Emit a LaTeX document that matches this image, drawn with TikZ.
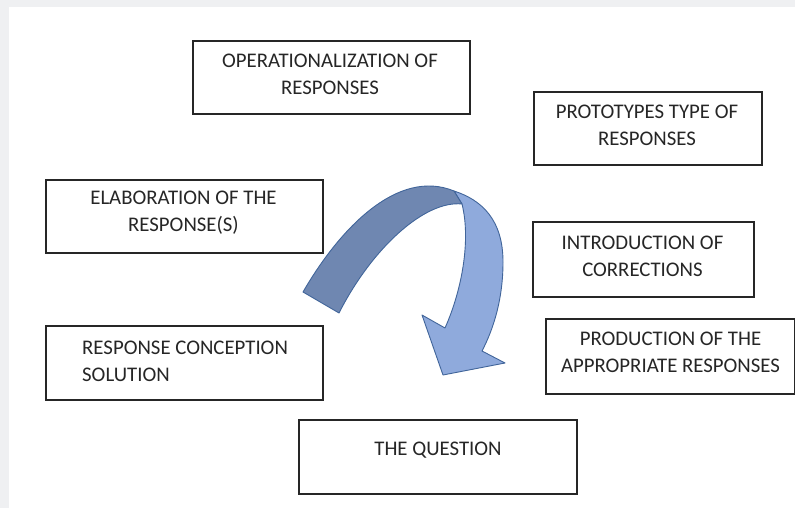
\documentclass[tikz,border=0pt]{standalone}
\usepackage{fontspec}
\setmainfont{Carlito}
\usepackage{xcolor}
\definecolor{pagegray}{HTML}{EFF0F2}
\definecolor{bandback}{HTML}{8FAADC}
\definecolor{bandfront}{HTML}{6F87B1}
\definecolor{bandline}{HTML}{41659A}
\definecolor{boxtext}{HTML}{262626}
\usetikzlibrary{positioning}

\tikzset{
    box/.style={draw=black!85, line width=1.3pt, minimum height=73pt, inner sep=0pt},
    caption/.style={text=boxtext, font=\fontsize{20.8}{27}\selectfont, align=center, inner sep=0pt}
}

\begin{document}
\begin{tikzpicture}[x=1pt,y=-1pt]
    \useasboundingbox (0,0) rectangle (795,508);
    \fill[pagegray] (0,0) rectangle (795,508);
    \fill[white] (9,7) rectangle (795,508);

    \node[box, minimum width=277pt] (oper) at (331.5,77.5) {};
    \node[caption] (oper-t) at (330,74) {OPERATIONALIZATION OF\\RESPONSES};

    \node[box, minimum width=228pt] (proto) at (648,128.5) {};
    \node[caption] (proto-t) at (647,125) {PROTOTYPES TYPE OF\\RESPONSES};

    \node[box, minimum width=277pt] (elab) at (184.5,216.5) {};
    \node[caption] (elab-t) at (183.5,213) {ELABORATION OF THE\\RESPONSE(S)};

    \node[box, minimum width=221pt, minimum height=75pt] (intro) at (643.5,259.5) {};
    \node[caption] (intro-t) at (642.5,256.5) {INTRODUCTION OF\\CORRECTIONS};

    \node[box, minimum width=277pt, minimum height=74pt] (concep) at (184.5,363) {};
    \node[caption, align=left, anchor=west] (concep-t) at (82,361) {RESPONSE CONCEPTION\\SOLUTION};

    \node[box, minimum width=249pt, minimum height=75pt] (prod) at (670.5,356.5) {};
    \node[caption] (prod-t) at (670.5,352.5) {PRODUCTION OF THE\\APPROPRIATE RESPONSES};

    \node[box, minimum width=278pt, minimum height=74pt] (question) at (438,457) {};
    \node[caption] (question-t) at (438,450.5) {THE QUESTION};

    % curved arrow: back part with the head, then the front band
    \filldraw[fill=bandback, draw=bandline, line width=0.9pt, line join=round]
        (454,191) .. controls (482,200) and (503,220) .. (503,262)
        .. controls (503,300) and (493,330) .. (482,351)
        -- (505,363) -- (443,375) -- (422,315) -- (445,328)
        .. controls (462,290) and (471,240) .. (462,204) -- cycle;
    \filldraw[fill=bandfront, draw=bandline, line width=0.9pt, line join=round]
        (303,292) .. controls (340,228) and (398,168) .. (454,191)
        -- (462,204) .. controls (425,200) and (372,248) .. (339,313) -- cycle;
\end{tikzpicture}
\end{document}
